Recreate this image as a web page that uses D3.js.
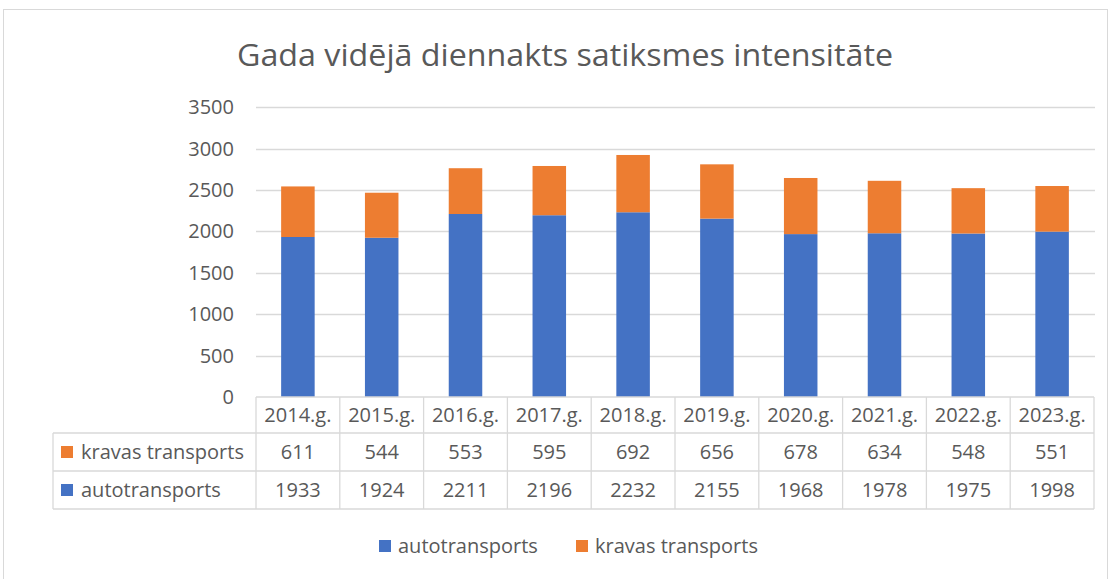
<!DOCTYPE html>
<html>
<head>
<meta charset="utf-8">
<script src="https://cdn.jsdelivr.net/npm/d3@7"></script>
<style>
  html, body { margin: 0; padding: 0; background: #fff; }
  svg { display: block; }
  text { font-family: "Open Sans", Lato, sans-serif; fill: #595959; }
</style>
</head>
<body>
<svg id="chart" width="1110" height="579"></svg>
<script>
const title = "Gada vidējā diennakts satiksmes intensitāte";
const years = ["2014.g.", "2015.g.", "2016.g.", "2017.g.", "2018.g.", "2019.g.", "2020.g.", "2021.g.", "2022.g.", "2023.g."];
const autotransports = [1933, 1924, 2211, 2196, 2232, 2155, 1968, 1978, 1975, 1998];
const kravasTransports = [611, 544, 553, 595, 692, 656, 678, 634, 548, 551];
const yTicks = [0, 500, 1000, 1500, 2000, 2500, 3000, 3500];
const seriesNames = ["autotransports", "kravas transports"];
const colors = { "autotransports": "#4472C4", "kravas transports": "#ED7D31" };

const svg = d3.select("#chart");
const gridColor = "#d9d9d9";
const fs = 20;

// outer chart border
svg.append("rect").attr("x", 3.5).attr("y", 9.5).attr("width", 1104).attr("height", 600)
  .attr("fill", "none").attr("stroke", gridColor).attr("stroke-width", 1);

// title
svg.append("text").attr("x", 565).attr("y", 66).attr("text-anchor", "middle")
  .attr("font-size", 31).attr("font-weight", 400).text(title)
  .attr("textLength", 656).attr("lengthAdjust", "spacingAndGlyphs");

const x = d3.scaleBand().domain(years).range([256, 1094]).paddingInner(0.6).paddingOuter(0.3);
const y = d3.scaleLinear().domain([0, 3500]).range([397, 107.3]);

// gridlines
svg.append("g").selectAll("line").data(yTicks.filter(d => d > 0)).join("line")
  .attr("x1", 256).attr("x2", 1095)
  .attr("y1", d => Math.round(y(d)) + 0.5).attr("y2", d => Math.round(y(d)) + 0.5)
  .attr("stroke", gridColor).attr("stroke-width", 1.3);

// y axis labels
const yAxis = d3.axisLeft(y).tickValues(yTicks).tickSize(0).tickPadding(0).tickFormat(d3.format("d"));
const gy = svg.append("g").attr("transform", "translate(234,0)").call(yAxis);
gy.select(".domain").remove();
gy.selectAll("text").attr("font-size", fs).attr("fill", "#595959")
  .style("font-family", "'Open Sans', Lato, sans-serif");

// stacked bars
const stackData = years.map((yr, i) => ({ year: yr, "autotransports": autotransports[i], "kravas transports": kravasTransports[i] }));
const stacked = d3.stack().keys(seriesNames)(stackData);
svg.append("g").selectAll("g").data(stacked).join("g")
  .attr("fill", d => colors[d.key])
  .selectAll("rect").data(d => d).join("rect")
  .attr("x", d => x(d.data.year))
  .attr("width", x.bandwidth())
  .attr("y", d => y(d[1]))
  .attr("height", d => y(d[0]) - y(d[1]));

// data table
const colStep = x.step();
const colLeft = i => 256 + i * colStep;
const rowBottom = 509;
const tbl = svg.append("g").attr("stroke", gridColor).attr("stroke-width", 1.3).attr("fill", "none");
tbl.append("line").attr("x1", 256).attr("x2", 1094).attr("y1", 397).attr("y2", 397);
tbl.append("line").attr("x1", 53).attr("x2", 1094).attr("y1", 433).attr("y2", 433);
tbl.append("line").attr("x1", 53).attr("x2", 1094).attr("y1", 471).attr("y2", 471);
tbl.append("line").attr("x1", 53).attr("x2", 1094).attr("y1", rowBottom).attr("y2", rowBottom);
tbl.append("line").attr("x1", 53).attr("x2", 53).attr("y1", 433).attr("y2", rowBottom);
d3.range(years.length + 1).forEach(i => {
  tbl.append("line").attr("x1", colLeft(i)).attr("x2", colLeft(i)).attr("y1", 397).attr("y2", rowBottom);
});

// header labels
svg.append("g").selectAll("text").data(years).join("text")
  .attr("x", d => x(d) + x.bandwidth() / 2).attr("y", 422)
  .attr("text-anchor", "middle").attr("font-size", fs).text(d => d);

// rows
const rows = [
  { name: "kravas transports", values: kravasTransports, top: 433 },
  { name: "autotransports", values: autotransports, top: 471 }
];
rows.forEach(r => {
  svg.append("rect").attr("x", 61).attr("y", r.top + 13).attr("width", 12).attr("height", 12)
    .attr("fill", colors[r.name]);
  svg.append("text").attr("x", 81).attr("y", r.top + 26).attr("font-size", fs).text(r.name);
  svg.append("g").selectAll("text").data(r.values).join("text")
    .attr("x", (d, i) => x(years[i]) + x.bandwidth() / 2).attr("y", r.top + 26)
    .attr("text-anchor", "middle").attr("font-size", fs).text(d => d);
});

// bottom legend
const legendItems = [
  { name: "autotransports", sx: 379, tx: 398 },
  { name: "kravas transports", sx: 576, tx: 595 }
];
legendItems.forEach(l => {
  svg.append("rect").attr("x", l.sx).attr("y", 540).attr("width", 12).attr("height", 12)
    .attr("fill", colors[l.name]);
  svg.append("text").attr("x", l.tx).attr("y", 553).attr("font-size", fs).text(l.name);
});
</script>
</body>
</html>
